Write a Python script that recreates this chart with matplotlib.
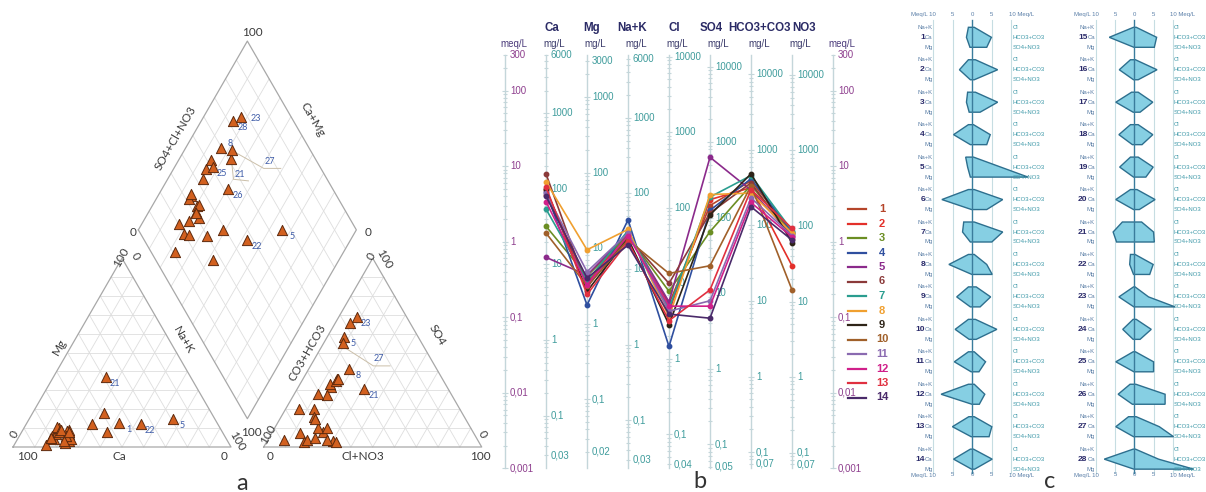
import numpy as np
import matplotlib
matplotlib.use("Agg")
import matplotlib.pyplot as plt
from matplotlib.collections import LineCollection
from matplotlib.patches import Polygon
from matplotlib.transforms import blended_transform_factory

W, H = 1206, 492

# ---------------- a: Piper diagram (% of meq/L), samples 1..28 ----------------
mg_pct = [12.6, 6, 5, 8, 14.9, 4, 7, 7, 3, 2, 9, 1, 8.5, 4, 10, 17.9, 8.1, 6, 10.5, 3,
          37, 12.2, 8, 5, 9, 12, 8, 5]
nak_pct = [42.4, 15, 15, 21.5, 66, 17, 22, 16.4, 24.4, 22.7, 21, 14.8, 20.4, 24.7, 16.3, 33, 39, 21.5, 15, 22,
           24, 52.4, 17.2, 14.8, 17.3, 30.4, 21.8, 14.8]
so4_pct = [20.3, 32, 20.3, 15.9, 58.3, 7.2, 2.8, 41.3, 3.7, 3.7, 4.6, 8, 3.3, 3.7, 27.8, 9.8, 28.2, 2.5, 36.1, 15,
           30.8, 33.4, 68.8, 9.8, 35.2, 36.1, 55.3, 65.8]
clno3_pct = [5.9, 15, 12.7, 15.2, 7.7, 12.9, 16.9, 18.4, 18, 7.4, 21.3, 23.4, 30, 27.4, 15.3, 19.8, 10.6, 32, 15.7, 16,
             30.6, 13.8, 8.2, 24, 15.6, 16, 8.6, 6.6]
cat_labels = [1, 5, 21, 22]
an_labels = [5, 8, 21, 23]
dia_labels = [5, 22, 25, 26, 28]

# ---------------- b: Schoeller diagram (meq/L), samples 1..14 ----------------
ions = ['Ca', 'Mg', 'Na+K', 'Cl', 'SO4', 'HCO3+CO3', 'NO3']
eq_weight = [20.04, 12.15, 23.0, 35.45, 48.03, 61.02, 62.0]
mg_ticks = [
    [6000, 1000, 100, 10, 1, 0.1, 0.03],
    [3000, 1000, 100, 10, 1, 0.1, 0.02],
    [6000, 1000, 100, 10, 1, 0.1, 0.03],
    [10000, 1000, 100, 10, 1, 0.1, 0.04],
    [10000, 1000, 100, 10, 1, 0.1, 0.05],
    [10000, 1000, 100, 10, 1, 0.1, 0.07],
    [10000, 1000, 100, 10, 1, 0.1, 0.07],
]
meq_ticks = [300, 100, 10, 1, 0.1, 0.01, 0.001]
sch_ca = [4.2, 4.8, 1.6, 4.6, 0.62, 7.9, 2.7, 6.2, 5.0, 1.3, 4.4, 3.4, 5.3, 4.0]
sch_mg = [0.30, 0.28, 0.35, 0.145, 0.36, 0.25, 0.30, 0.78, 0.22, 0.26, 0.40, 0.27, 0.20, 0.33]
sch_nak = [1.25, 1.35, 1.20, 1.94, 1.30, 1.15, 1.40, 1.45, 1.10, 1.05, 1.30, 1.20, 1.00, 0.90]
sch_cl = [0.15, 0.12, 0.22, 0.041, 0.16, 0.28, 0.13, 0.10, 0.08, 0.38, 0.12, 0.14, 0.09, 0.11]
sch_so4 = [3.0, 3.6, 1.36, 2.6, 13.1, 2.4, 3.9, 4.2, 2.26, 0.48, 0.165, 0.14, 0.23, 0.097]
sch_hco3 = [6.4, 5.2, 5.6, 6.8, 4.8, 6.0, 7.5, 4.4, 7.9, 5.5, 3.8, 3.3, 4.9, 2.9]
sch_no3 = [1.30, 0.48, 1.25, 1.35, 1.20, 1.10, 1.40, 1.30, 0.97, 0.23, 1.20, 1.15, 1.50, 1.05]
sch_colors = ['#b5452a', '#e3302a', '#6b8e23', '#2f4f9f', '#8b2a8b', '#8b3a3a', '#2a9d8f',
              '#f0a030', '#2e2418', '#a0602a', '#8a6ab0', '#d0208a', '#e03040', '#4a2a6a']

# ---------------- c: Stiff diagrams (meq/L), samples 1..28 ----------------
st_nak = [1.0, 1.0, 1.2, 1.0, 1.7, 1.0, 2.2, 1.0, 1.0, 1.0, 1.0, 1.0, 0.9, 0.5,
          0.2, 1.0, 0.7, 1.0, 1.0, 1.0, 3.1, 1.0, 0.2, 0.3, 0.3, 1.1, 1.5, 0.3]
st_ca = [1.5, 3.3, 1.5, 4.8, 1.2, 7.8, 2.5, 6.0, 4.0, 4.4, 4.6, 8.0, 5.1, 4.8,
         6.5, 3.9, 4.8, 4.0, 3.8, 4.8, 5.5, 1.2, 4.0, 3.0, 4.8, 4.2, 4.8, 7.8]
st_mg = [0.6, 0.5, 0.8, 0.5, 0.5, 0.2, 0.5, 0.1, 0.5, 0.8, 0.3, 0.1, 0.3, 0.2,
         0.1, 0.2, 0.3, 0.5, 0.2, 0.2, 4.6, 0.2, 0.1, 0.3, 0.1, 0.5, 0.2, 0.1]
st_cl = [0.5, 0.8, 0.8, 0.3, 0.3, 0.5, 0.5, 0.5, 1.0, 0.8, 0.5, 0.5, 0.5, 0.3,
         0.5, 0.3, 1.0, 1.0, 1.0, 0.7, 1.9, 0.2, 0.2, 0.5, 0.3, 0.4, 0.5, 0.3]
st_hco3 = [4.9, 6.5, 6.5, 4.6, 7.3, 7.8, 7.8, 3.7, 4.7, 6.3, 3.4, 3.2, 5.0, 5.1,
           5.8, 5.9, 4.8, 4.8, 4.9, 5.4, 5.0, 4.9, 3.7, 4.4, 5.0, 8.0, 6.5, 6.3]
st_so4 = [3.7, 0.5, 2.0, 3.7, 14.3, 3.7, 5.0, 5.1, 2.0, 1.0, 1.7, 1.8, 4.3, 0.6,
          5.2, 1.0, 1.5, 2.0, 3.0, 1.3, 5.2, 4.0, 10.6, 1.5, 5.0, 8.0, 10.2, 15.4]

plt.rcParams['font.family'] = ['Liberation Sans', 'DejaVu Sans']
fig = plt.figure(figsize=(W / 100, H / 100), dpi=100)

# =============================== a ===============================
S3 = np.sqrt(3) / 2
GAP = 0.15
UNIT = 218.0            # px per triangle side
OX, OY = 13.0, 447.0    # px of the cation triangle's lower-left corner

ax_a = fig.add_axes([0, 0, 495 / W, 1])
ax_a.set_xlim(-OX / UNIT, (495 - OX) / UNIT)
ax_a.set_ylim(-(H - OY) / UNIT, OY / UNIT)
ax_a.axis('off')


def P(px, py):
    return (px - OX) / UNIT, (OY - py) / UNIT


def cation_xy(mg, nak):
    mg, nak = np.asarray(mg) / 100, np.asarray(nak) / 100
    return nak + mg / 2, mg * S3


def anion_xy(so4, cl):
    so4, cl = np.asarray(so4) / 100, np.asarray(cl) / 100
    return 1 + GAP + cl + so4 / 2, so4 * S3


def diamond_xy(a, b):
    # a: SO4+Cl+NO3 fraction, b: Na+K fraction
    lx, ly = 0.5 + GAP / 2, (1 + GAP) * S3
    return lx + (a + b) / 2, ly + (a - b) * S3


grid_kw = dict(color='#dedede', lw=0.6, zorder=1)
edge_kw = dict(color='#a8a8a8', lw=0.9, zorder=2)


def triangle(x0):
    for k in range(1, 10):
        f = k / 10
        ax_a.plot([x0 + f / 2, x0 + 1 - f / 2], [f * S3, f * S3], **grid_kw)
        ax_a.plot([x0 + f, x0 + f + (1 - f) / 2], [0, (1 - f) * S3], **grid_kw)
        ax_a.plot([x0 + f, x0 + f / 2], [0, f * S3], **grid_kw)
    ax_a.plot([x0, x0 + 1, x0 + 0.5, x0], [0, 0, S3, 0], **edge_kw)


triangle(0)
triangle(1 + GAP)
for k in range(1, 10):
    f = k / 10
    ax_a.plot(*zip(diamond_xy(f, 0), diamond_xy(f, 1)), **grid_kw)
    ax_a.plot(*zip(diamond_xy(0, f), diamond_xy(1, f)), **grid_kw)
corners = [diamond_xy(0, 0), diamond_xy(1, 0), diamond_xy(1, 1), diamond_xy(0, 1), diamond_xy(0, 0)]
ax_a.plot(*zip(*corners), **edge_kw)

mg_a, nak_a = np.array(mg_pct), np.array(nak_pct)
so4_a, cl_a = np.array(so4_pct), np.array(clno3_pct)
cx, cy = cation_xy(mg_a, nak_a)
axx, ayy = anion_xy(so4_a, cl_a)
dx, dy = diamond_xy((so4_a + cl_a) / 100, nak_a / 100)

mk = dict(marker='^', s=54, facecolor='#d2601f', edgecolor='#5e2a0e', linewidths=0.7, zorder=5)
for xs, ys in [(cx, cy), (axx, ayy), (dx, dy)]:
    ax_a.scatter(xs, ys, **mk)

ptf = ['Lato', 'DejaVu Sans']
num_kw = dict(fontsize=6.5, color='#3e5ca8', family=ptf, ha='center', va='center', zorder=6)


def tag(x, y, n, ox=9.5, oy=6.5):
    ax_a.text(x + ox / UNIT, y - oy / UNIT, str(n), **num_kw)


for n in cat_labels:
    tag(cx[n - 1], cy[n - 1], n)
for n in an_labels:
    tag(axx[n - 1], ayy[n - 1], n)
for n in dia_labels:
    tag(dx[n - 1], dy[n - 1], n)
tag(dx[7], dy[7], 8, 9, -5)
tag(dx[22], dy[22], 23, 15, 2)

lead_kw = dict(color='#cbbfa9', lw=0.7, zorder=4)


def leader(x, y, n, path, lab):
    xs = [x + p[0] / UNIT for p in path]
    ys = [y - p[1] / UNIT for p in path]
    ax_a.plot(xs, ys, **lead_kw)
    ax_a.text(x + lab[0] / UNIT, y - lab[1] / UNIT, str(n), **num_kw)


leader(dx[20], dy[20], 21, [(0, 0), (2, 20), (17, 21.6)], (8, 15))
leader(dx[26], dy[26], 27, [(0, 0), (32, 18), (49, 18)], (38, 11))
leader(axx[26], ayy[26], 27, [(2, 5), (30.6, 23.3), (47.3, 23.3)], (36, 16))

ax_kw = dict(fontsize=8.5, color='#3a3a3a', family=ptf, ha='center', va='center')
for txt, (px, py), rot in [
        ('100', (27, 456), 0), ('Ca', (119, 456), 0), ('0', (224, 456), 0),
        ('0', (14, 434), 60), ('Mg', (59, 347), 60), ('100', (121, 257), 60),
        ('0', (135, 256), -60), ('Na+K', (183, 340), -60), ('100', (237, 441), -60),
        ('0', (270, 456), 0), ('Cl+NO3', (363, 456), 0), ('100', (480, 456), 0),
        ('100', (268, 434), 60), ('CO3+HCO3', (307, 353), 60), ('0', (371, 256), 60),
        ('100', (384, 259), -60), ('SO4', (437, 335), -60), ('0', (482, 434), -60),
        ('100', (252, 32), 0), ('SO4+Cl+NO3', (176, 138), 60), ('0', (133, 232), 0),
        ('Ca+Mg', (313, 120), -60), ('0', (368, 232), 0), ('100', (251, 433), 0)]:
    ax_a.text(*P(px, py), txt, rotation=rot, **ax_kw)

# =============================== b ===============================
PX_DEC = 75.5                       # px per decade of meq/L
TOP = np.log10(300) + 54.5 / PX_DEC
BOT = -3 - 23.7 / PX_DEC
XU = 41.0                           # px between axes

ax_b = fig.add_axes([495 / W, 0, 400 / W, 1])
ax_b.set_yscale('log')
ax_b.set_ylim(10 ** BOT, 10 ** TOP)
ax_b.set_xlim(-10 / XU, 390 / XU)
ax_b.axis('off')
tr_b = blended_transform_factory(ax_b.transData, ax_b.transAxes)


def fmt(v):
    return f"{v:g}".replace('.', ',')


def log_ticks(xpos, scale):
    segs = []
    for d in range(-4, 5):
        for m in range(1, 10):
            v = m * 10.0 ** d / scale
            if 0.001 <= v <= 300:
                half = 0.085 if m == 1 else 0.05
                segs.append([(xpos - half, v), (xpos + half, v)])
    ax_b.add_collection(LineCollection(segs, colors='#c4d6da', linewidths=0.8, zorder=1))


axis_x = list(range(9))
for x in axis_x:
    ax_b.plot([x, x], [0.001, 300], color='#c4d6da', lw=1.0, zorder=1)

for x in (0, 8):
    log_ticks(x, 1.0)
    for v in meq_ticks:
        ax_b.text(x + 0.12, v, fmt(v), fontsize=7, color='#8e3f8e', va='center', ha='left')
    ax_b.text(x + 0.22, 1 - 44 / H, 'meq/L', transform=tr_b, fontsize=7, color='#4b3b7b',
              ha='center', va='center')

head_dx = [0.15, 0.1, 0.1, 0.12, 0.02, 0.2, 0.3]
for i, (name, ew, ticks) in enumerate(zip(ions, eq_weight, mg_ticks)):
    x = i + 1
    log_ticks(x, ew)
    for v in ticks:
        ax_b.text(x + 0.12, v / ew, fmt(v), fontsize=7, color='#3f9c9c', va='center', ha='left')
    ax_b.text(x + head_dx[i], 1 - 28 / H, name, transform=tr_b, fontsize=8.3, fontweight='bold',
              color='#2b2b66', ha='center', va='center')
    ax_b.text(x + 0.2, 1 - 44 / H, 'mg/L', transform=tr_b, fontsize=7, color='#3b3b6b',
              ha='center', va='center')

series = np.array([sch_ca, sch_mg, sch_nak, sch_cl, sch_so4, sch_hco3, sch_no3]).T
for k, (vals, col) in enumerate(zip(series, sch_colors)):
    ax_b.plot(range(1, 8), vals, color=col, lw=1.2, marker='o', ms=3.2, zorder=3 + k * 0.01)

for k, col in enumerate(sch_colors):
    yy = 1 - (209 + 14.5 * k) / H
    ax_b.plot([(848 - 505) / XU, (866 - 505) / XU], [yy, yy], color=col, lw=1.6, transform=tr_b)
    ax_b.text((882 - 505) / XU, yy, str(k + 1), color=col, fontsize=8, fontweight='bold',
              ha='center', va='center', transform=tr_b)

# =============================== c ===============================
ROW0, ROWPX, STEP = 27.3, 10.0, 3.245
lab_l = '#5b7fa6'
lab_r = '#3d98a8'
fs = 4.3


def stiff_column(left_px, right_px, center_px, ppm, first):
    ax = fig.add_axes([left_px / W, 0, (right_px - left_px) / W, 1])
    ax.set_xlim((left_px - center_px) / ppm, (right_px - center_px) / ppm)
    ax.set_ylim((H - ROW0) / ROWPX, -ROW0 / ROWPX)
    ax.axis('off')
    y_top, y_bot = (20 - ROW0) / ROWPX, (473 - ROW0) / ROWPX
    for g in (-10, -5, 5, 10):
        ax.plot([g, g], [y_top, y_bot], color='#c6dde2', lw=0.8, zorder=1)
    ax.plot([0, 0], [y_top, y_bot], color='#3a7c9c', lw=1.0, zorder=4)
    for yh in ((15 - ROW0) / ROWPX, (475 - ROW0) / ROWPX):
        ax.text(-9.3, yh, 'Meq/L 10', fontsize=fs, color='#5a7fa8', ha='right', va='center')
        ax.text(9.3, yh, '10 Meq/L', fontsize=fs, color='#5a7fa8', ha='left', va='center')
        for g, s in ((-5, '5'), (0, '0'), (5, '5')):
            ax.text(g, yh, s, fontsize=fs, color='#5a7fa8', ha='center', va='center')
    for k in range(14):
        i = first + k
        y0 = k * STEP
        verts = [(-st_nak[i], y0), (-st_ca[i], y0 + 1), (-st_mg[i], y0 + 2),
                 (st_so4[i], y0 + 2), (st_hco3[i], y0 + 1), (st_cl[i], y0)]
        ax.add_patch(Polygon(verts, closed=True, facecolor='#86cfe3', edgecolor='#2d6f8e',
                             lw=1.0, zorder=3))
        for r, (lt, rt) in enumerate([('Na+K', 'Cl'), ('Ca', 'HCO3+CO3'), ('Mg', 'SO4+NO3')]):
            ax.text(-10.2, y0 + r, lt, fontsize=fs, color=lab_l, ha='right', va='center')
            ax.text(10.3, y0 + r, rt, fontsize=fs, color=lab_r, ha='left', va='center')
        ax.annotate(str(i + 1), xy=(-10.2, y0 + 1), xytext=(-5.5, 0), textcoords='offset points',
                    fontsize=6, fontweight='bold', color='#2a2a6a', ha='right', va='center')


stiff_column(895, 1045, 972.3, 3.9, 0)
stiff_column(1045, 1206, 1134.3, 3.85, 14)

# panel letters
for s, px, py in (('a', 242, 483), ('b', 700, 482), ('c', 1050, 482)):
    fig.text(px / W, 1 - py / H, s, fontsize=17, color='#333333', family=ptf,
             ha='center', va='center')

fig.savefig('out.png', dpi=100)
